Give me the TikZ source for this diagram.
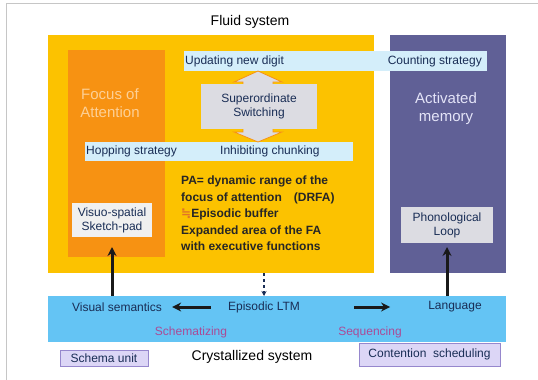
\documentclass[tikz,border=0pt]{standalone}
\usepackage{fontspec}
\setmainfont{Liberation Sans}
\newfontfamily\symfont{DejaVu Sans}
\usetikzlibrary{positioning,arrows.meta}
\definecolor{fluidyellow}{RGB}{252,194,0}
\definecolor{focusorange}{RGB}{247,146,18}
\definecolor{focustext}{RGB}{253,208,150}
\definecolor{memviolet}{RGB}{96,96,150}
\definecolor{memtext}{RGB}{228,228,248}
\definecolor{barblue}{RGB}{212,238,250}
\definecolor{bandblue}{RGB}{100,196,244}
\definecolor{inknavy}{RGB}{25,45,85}
\definecolor{procpink}{RGB}{170,75,150}
\definecolor{unitlilac}{RGB}{220,214,246}
\definecolor{unitedge}{RGB}{150,135,205}
\definecolor{switchgray}{RGB}{220,220,226}
\definecolor{approxink}{RGB}{225,115,40}

\begin{document}
\begin{tikzpicture}[x=1pt,y=-1pt,
  area/.style={inner sep=0pt,outer sep=0pt},
  bar/.style={area,fill=barblue},
  inbox/.style={area,align=center,font=\fontsize{12}{14}\selectfont,text=inknavy},
  lbl/.style={inner sep=1pt,font=\fontsize{12}{14}\selectfont,text=inknavy},
  big/.style={inner sep=1pt,align=center,font=\fontsize{15}{18}\selectfont},
  unit/.style={area,fill=unitlilac,draw=unitedge,line width=0.6pt,font=\fontsize{12}{14}\selectfont,text=inknavy},
  arr/.style={-{Stealth[length=9pt,width=9pt]},line width=3pt,color=black!90}]
  \useasboundingbox (0,0) rectangle (538,380);
  \draw[gray!45,line width=1pt] (6,380) -- (6,3) -- (538,3);
  \node[inner sep=1pt,font=\fontsize{14}{16}\selectfont] (fluidlbl) at (250,22) {Fluid system};
  \node[area,fill=fluidyellow,minimum width=326,minimum height=238] (fluid) at (211,154) {};
  \node[area,fill=memviolet,minimum width=116,minimum height=238] (memory) at (448,154) {};
  \node[area,fill=focusorange,minimum width=97,minimum height=207] (focus) at (116.5,153.5) {};
  \node[big,text=focustext] (focuslbl) at (110,103) {Focus of\\Attention};
  \node[big,text=memtext] (memlbl) at (446,109) {Activated\\memory};
  \node[bar,minimum width=303,minimum height=20] (update) at (335.5,61) {};
  \node[bar,minimum width=268,minimum height=19] (hop) at (219,151.5) {};
  \filldraw[fill=switchgray,draw=focusorange,line width=0.8pt]
    (258,71) -- (282,82) -- (273,82) -- (273,132) -- (282,132)
    -- (258,142) -- (234,132) -- (243,132) -- (243,82) -- (234,82) -- cycle;
  \node[inbox,fill=switchgray,minimum width=116,minimum height=45] (switch) at (259,106.5) {Superordinate\\Switching};
  \node[lbl,anchor=west] (updlbl) at (update.west) {Updating new digit};
  \node[lbl,anchor=east] (countlbl) at ([xshift=-4pt]update.east) {Counting strategy};
  \node[lbl,anchor=west] (hoplbl) at (hop.west) {Hopping strategy};
  \node[lbl,anchor=west] (inhiblbl) at (219,151.5) {Inhibiting chunking};
  \node[anchor=north west,inner sep=0pt,align=left,text=black!85,
        font=\bfseries\fontsize{12}{16.5}\selectfont] (pa) at (181,176)
    {PA= dynamic range of the\\
     focus of attention\quad(DRFA)\\
     {\symfont\color{approxink}≒}Episodic buffer\\
     Expanded area of the FA\\
     with executive functions};
  \node[inbox,fill=black!6,minimum width=80,minimum height=34] (sketch) at (112,220) {Visuo-spatial\\Sketch-pad};
  \node[inbox,fill=switchgray,minimum width=92,minimum height=36] (phono) at (447,225) {Phonological\\Loop};
  \node[area,fill=bandblue,minimum width=458,minimum height=46] (band) at (277,319) {};
  \node[lbl] (vissem) at (117,307) {Visual semantics};
  \node[lbl] (ltm) at (264,307) {Episodic LTM};
  \node[lbl] (lang) at (455,307) {Language};
  \node[lbl,text=procpink] (schemat) at (191,332) {Schematizing};
  \node[lbl,text=procpink] (sequen) at (370,332) {Sequencing};
  \node[unit,minimum width=88,minimum height=16] (schema) at (104,358.5) {Schema unit};
  \node[unit,minimum width=141,minimum height=23] (contention) at (429.5,354.5) {Contention\ \ scheduling};
  \node[inner sep=1pt,font=\fontsize{14}{16}\selectfont] (crystal) at (252,357) {Crystallized system};
  \draw[arr,shorten <=16pt,shorten >=9pt] (ltm) -- (vissem);
  \draw[arr,shorten <=53pt,shorten >=37pt] (ltm) -- (lang);
  \draw[arr,shorten >=10pt] (band.north -| sketch) -- (sketch.south);
  \draw[arr,shorten >=4pt] (band.north -| phono) -- (phono.south);
  \draw[-{Stealth[length=5pt,width=5pt]},dashed,line width=1.2pt,color=inknavy]
    (fluid.south -| ltm) -- (band.north -| ltm);
\end{tikzpicture}
\end{document}
